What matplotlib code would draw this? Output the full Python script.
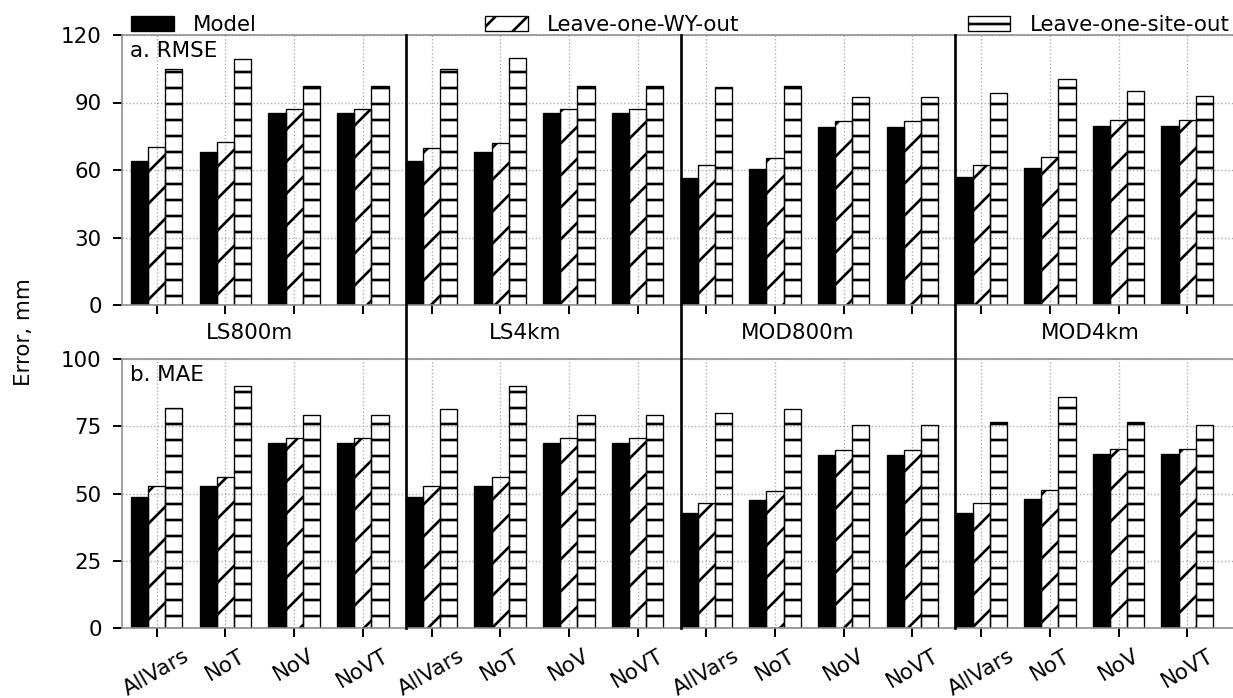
import numpy as np
import matplotlib
matplotlib.use('Agg')
import matplotlib.pyplot as plt
from matplotlib.transforms import blended_transform_factory
from matplotlib.lines import Line2D

# ─────────────────────────────────────────
# DATA
# ─────────────────────────────────────────

datasets = ['LS800m', 'LS4km', 'MOD800m', 'MOD4km']
variants = ['AllVars', 'NoT', 'NoV', 'NoVT']
series_names = ['Model', 'Leave-one-WY-out', 'Leave-one-site-out']

rmse_model = [64.0, 67.9, 85.2, 85.2, 63.9, 68.0, 85.2, 85.2,
              56.6, 60.3, 79.3, 79.3, 56.9, 60.7, 79.6, 79.6]
rmse_wy    = [70.1, 72.6, 87.1, 87.1, 69.9, 72.1, 87.1, 87.1,
              62.2, 65.3, 81.8, 81.8, 62.4, 65.9, 82.4, 82.4]
rmse_site  = [104.9, 109.5, 97.3, 97.3, 104.7, 109.8, 97.5, 97.5,
              97.0, 97.3, 92.6, 92.6, 94.2, 100.6, 95.0, 92.9]

mae_model = [48.8, 52.9, 68.8, 68.8, 48.7, 52.9, 68.8, 68.8,
             42.7, 47.7, 64.5, 64.5, 43.0, 48.1, 64.8, 64.8]
mae_wy    = [52.8, 56.2, 70.5, 70.5, 52.8, 56.0, 70.6, 70.6,
             46.5, 51.0, 66.2, 66.2, 46.6, 51.5, 66.5, 66.5]
mae_site  = [81.9, 89.8, 79.3, 79.3, 81.6, 89.8, 79.2, 79.2,
             79.8, 81.6, 75.5, 75.5, 76.6, 85.9, 76.6, 75.6]

panel_titles = ['a. RMSE', 'b. MAE']
ylims = [120, 100]
yticks = [[0, 30, 60, 90, 120], [0, 25, 50, 75, 100]]
dataset_label_x = [1.35, 5.37, 9.33, 13.59]

# ─────────────────────────────────────────
# STYLE
# ─────────────────────────────────────────

plt.rcParams['font.family'] = 'DejaVu Sans'
plt.rcParams['font.size'] = 16
plt.rcParams['hatch.linewidth'] = 2.0

W, H, DPI = 1233, 698, 96
fig = plt.figure(figsize=(W / DPI, H / DPI), dpi=DPI)

left_px, right_px = 122.35, 1238
ax1 = fig.add_axes([left_px / W, (H - 305) / H, (right_px - left_px) / W, 270 / H])
ax2 = fig.add_axes([left_px / W, (H - 628.3) / H, (right_px - left_px) / W, 269.3 / H])

labels = [v for d in datasets for v in variants]
x = np.arange(len(labels))
width = 0.25

panels = [(ax1, rmse_model, rmse_wy, rmse_site), (ax2, mae_model, mae_wy, mae_site)]

for i, (ax, m, wy, site) in enumerate(panels):
    ax.set_axisbelow(True)
    ax.grid(True, linestyle=':', color='#aaaaaa', linewidth=1.0)
    ax.bar(x - width, m, width, color='black', edgecolor='black', linewidth=1.0,
           label=series_names[0])
    ax.bar(x, wy, width, facecolor='none', edgecolor='black', linewidth=1.0,
           hatch='/', label=series_names[1])
    ax.bar(x + width, site, width, facecolor='none', edgecolor='black', linewidth=1.0,
           hatch='-', label=series_names[2])

    ax.set_xlim(-0.5, (right_px - 156.7) / 68.7)
    ax.set_ylim(0, ylims[i])
    ax.set_yticks(yticks[i])
    ax.set_xticks(x)
    for s in ['left', 'bottom', 'top']:
        ax.spines[s].set_color('0.55')
        ax.spines[s].set_linewidth(1.2)
    ax.spines['right'].set_visible(False)
    ax.tick_params(axis='both', direction='out', length=7, width=1.5,
                   color='black', pad=8.5, labelsize=16)
    ax.text(0.0066, 0.94 if i == 0 else 0.9406, panel_titles[i],
            transform=ax.transAxes, ha='left', va='center', fontsize=16)

ax1.set_xticklabels([])
ax2.set_xticklabels(labels, rotation=30, ha='center')
ax2.tick_params(axis='x', pad=6)

# dataset names in the gap between the panels
trans = blended_transform_factory(ax2.transData, ax2.transAxes)
for xc, name in zip(dataset_label_x, datasets):
    ax2.text(xc, 1.0966, name, transform=trans, ha='center', va='center', fontsize=16)

# vertical separators running through both panels
ftrans = blended_transform_factory(ax1.transData, fig.transFigure)
y_bot = ax2.get_position().y0
y_top = ax1.get_position().y1
for xs in [3.625, 7.625, 11.625]:
    fig.add_artist(Line2D([xs, xs], [y_bot, y_top], transform=ftrans,
                          color='black', linewidth=2.0))

ax1.legend(loc='lower left', bbox_to_anchor=(0., 0.97, 1., 0.05), mode='expand',
           ncol=3, frameon=False, borderaxespad=0, handlelength=2.0,
           handletextpad=0.9, fontsize=16)

fig.text(24 / W, (H - 332) / H, 'Error, mm', rotation=90, ha='center', va='center',
         fontsize=16)

fig.savefig('out.png', dpi=DPI)
